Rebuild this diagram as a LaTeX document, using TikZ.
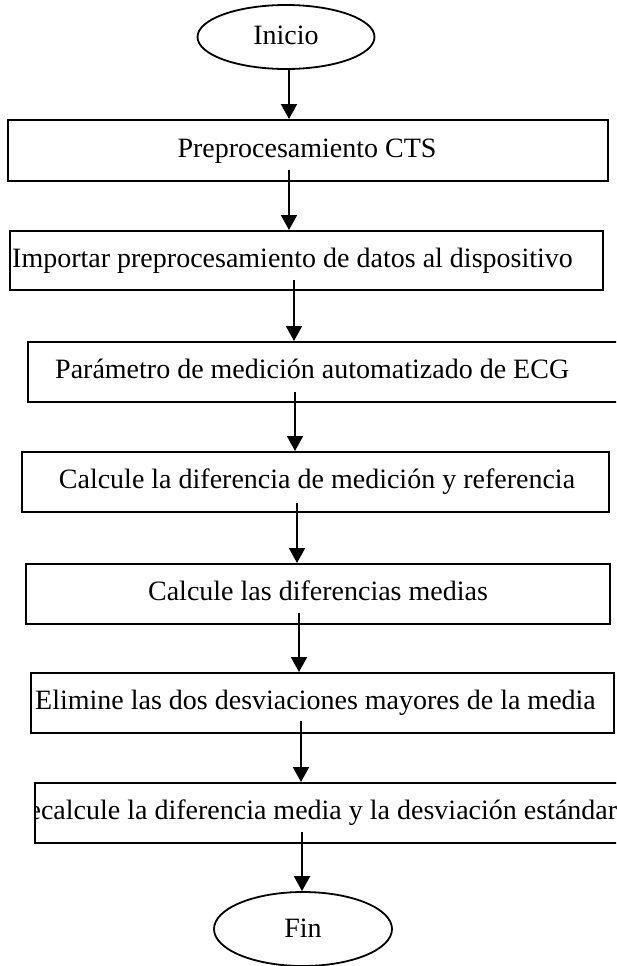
\documentclass[tikz,border=0pt]{standalone}
\usepackage{fontspec}
\setmainfont{Liberation Serif}
\usetikzlibrary{arrows.meta,shapes.geometric}
\begin{document}
\begin{tikzpicture}[x=1pt,y=-1pt,
  boxline/.style={draw=black,line width=2pt,inner sep=0pt},
  lbl/.style={inner sep=0pt,font=\fontsize{28}{32}\selectfont,text height=19pt,text depth=6pt},
  arr/.style={line width=2pt,-{Triangle[width=16pt,length=15pt]}},
  term/.style={ellipse,draw=black,line width=1.8pt,inner sep=0pt}]
\useasboundingbox (0,0) rectangle (616,966);
\clip (0,0) rectangle (616,966);
\fill[white] (0,0) rectangle (616,966);

% terminals
\node[term,minimum width=177pt,minimum height=64pt] (start) at (286,37) {};
\node[lbl] (t0) at (286,38) {Inicio};
\node[term,minimum width=178pt,minimum height=74pt] (fin) at (303,929) {};
\node[lbl] (t9) at (303,931) {Fin};

% boxes
\node[boxline,minimum width=600pt,minimum height=61pt] (b1) at (308,150.5) {};
\node[boxline,minimum width=593pt,minimum height=59pt] (b2) at (306.5,260.5) {};
\node[boxline,minimum width=612pt,minimum height=60pt] (b3) at (334,372) {};
\node[boxline,minimum width=587pt,minimum height=60pt] (b4) at (315.5,482) {};
\node[boxline,minimum width=584pt,minimum height=60pt] (b5) at (318,594) {};
\node[boxline,minimum width=583pt,minimum height=60pt] (b6) at (322.5,703) {};
\node[boxline,minimum width=615pt,minimum height=60pt] (b7) at (342.5,813) {};

% texts
\node[lbl] (t1) at (307,151) {Preprocesamiento CTS};
\node[lbl,anchor=west] (t2) at (12,261) {Importar preprocesamiento de datos al dispositivo};
\node[lbl,anchor=west] (t3) at (55,372) {Parámetro de medición automatizado de ECG};
\node[lbl] (t4) at (317,482) {Calcule la diferencia de medición y referencia};
\node[lbl] (t5) at (318,594) {Calcule las diferencias medias};
\node[lbl,anchor=west] (t6) at (35,703) {Elimine las dos desviaciones mayores de la media};
\begin{scope}
  \clip (b7.south west) rectangle (b7.north east);
  \node[lbl] (t7) at (313.5,813) {Recalcule la diferencia media y la desviación estándar};
\end{scope}

% connectors
\coordinate (a1) at (289,68);
\coordinate (a2) at (289,170);
\coordinate (a3) at (294,280);
\coordinate (a4) at (295,392);
\coordinate (a5) at (297,503);
\coordinate (a6) at (299,613);
\coordinate (a7) at (301,721);
\coordinate (a8) at (302,832);
\draw[arr] (a1) -- (a1 |- b1.north);
\draw[arr] (a2) -- (a2 |- b2.north);
\draw[arr] (a3) -- (a3 |- b3.north);
\draw[arr] (a4) -- (a4 |- b4.north);
\draw[arr] (a5) -- (a5 |- b5.north);
\draw[arr] (a6) -- (a6 |- b6.north);
\draw[arr] (a7) -- (a7 |- b7.north);
\draw[arr] (a8) -- (a8 |- fin.north);
\end{tikzpicture}
\end{document}
